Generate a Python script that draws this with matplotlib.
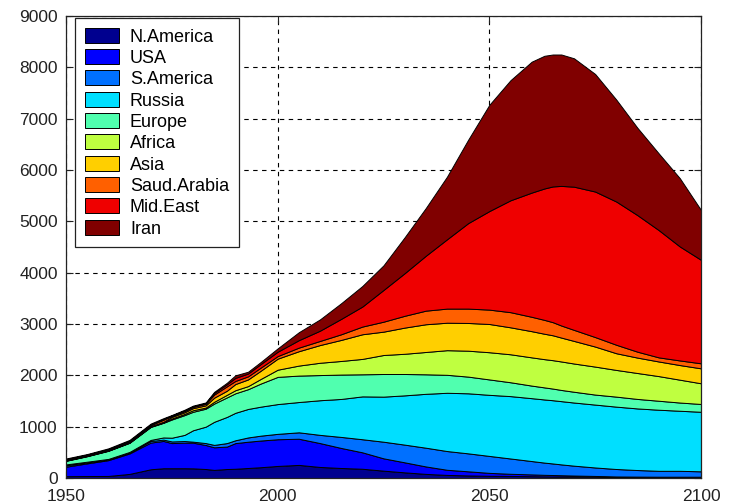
import numpy as np
import matplotlib
matplotlib.use("Agg")
import matplotlib.pyplot as plt

plt.rcParams["font.family"] = ["Liberation Sans", "DejaVu Sans"]

# years sampled from the chart
years = [1950, 1955, 1960, 1965, 1970, 1973, 1975, 1978, 1980, 1983,
         1985, 1988, 1990, 1993, 1996, 2000, 2005, 2010, 2015, 2020,
         2025, 2030, 2035, 2040, 2045, 2050, 2055, 2060, 2063, 2065,
         2067, 2070, 2075, 2080, 2085, 2090, 2095, 2100]

regions = ["N.America", "USA", "S.America", "Russia", "Europe",
           "Africa", "Asia", "Saud.Arabia", "Mid.East", "Iran"]

# per-region layer thickness (stacked in this order)
n_america = [35, 38, 40, 80, 170, 190, 190, 190, 188, 175,
             158, 175, 180, 195, 210, 235, 255, 215, 195, 180,
             143, 110, 80, 60, 50, 43, 40, 35, 32, 30,
             29, 27, 24, 20, 17, 15, 14, 13]
usa = [185, 247, 308, 398, 520, 532, 490, 498, 500, 468,
       440, 437, 500, 512, 520, 520, 510, 465, 390, 320,
       240, 195, 145, 100, 80, 57, 42, 35, 30, 28,
       25, 21, 16, 10, 10, 10, 11, 12]
s_america = [25, 18, 12, 17, 30, 26, 32, 32, 20, 37,
             47, 68, 55, 83, 95, 105, 125, 160, 215, 255,
             324, 345, 365, 365, 350, 330, 298, 260, 238, 225,
             211, 192, 165, 145, 128, 115, 115, 105]
russia = [20, 15, 12, 13, 22, 42, 73, 120, 222, 320,
          450, 510, 535, 555, 565, 580, 590, 675, 740, 835,
          878, 960, 1050, 1135, 1170, 1190, 1215, 1225, 1230, 1232,
          1232, 1230, 1225, 1215, 1200, 1190, 1170, 1160]
europe = [70, 107, 158, 178, 253, 285, 355, 385, 360, 350,
          355, 380, 380, 385, 450, 530, 515, 490, 475, 430,
          441, 416, 380, 350, 325, 300, 270, 245, 235, 227,
          218, 210, 195, 195, 185, 175, 160, 152]
africa = [5, 5, 5, 5, 7, 7, 20, 23, 30, 22,
          35, 50, 60, 60, 90, 140, 195, 240, 265, 300,
          370, 394, 435, 480, 505, 530, 545, 550, 550, 553,
          555, 550, 545, 520, 505, 480, 445, 403]
asia = [5, 6, 6, 6, 8, 13, 30, 32, 40, 43,
        80, 80, 120, 130, 160, 215, 280, 345, 410, 480,
        455, 510, 540, 535, 540, 550, 525, 510, 495, 485,
        465, 440, 390, 325, 300, 285, 285, 291]
saud_arabia = [10, 10, 11, 13, 20, 40, 20, 25, 25, 30,
               60, 85, 60, 60, 60, 50, 70, 80, 110, 150,
               194, 230, 265, 275, 280, 280, 295, 280, 270, 255,
               235, 215, 185, 165, 115, 80, 90, 98]
mid_east = [10, 9, 10, 14, 12, 13, 8, 10, 10, 13,
            30, 40, 60, 55, 70, 85, 145, 200, 300, 390,
            618, 830, 1070, 1350, 1665, 1920, 2180, 2420, 2560, 2645,
            2720, 2790, 2835, 2790, 2660, 2480, 2220, 2016]
iran = [15, 12, 16, 18, 18, 17, 10, 15, 15, 14,
        23, 30, 50, 35, 40, 65, 155, 220, 305, 400,
        480, 700, 930, 1220, 1625, 2070, 2340, 2550, 2585, 2570,
        2560, 2501, 2290, 1985, 1700, 1495, 1330, 970]

layers = [n_america, usa, s_america, russia, europe,
          africa, asia, saud_arabia, mid_east, iran]

# MATLAB jet(64) rows picked by the area index
colors = [(0, 0, 0.5625), (0, 0, 1), (0, 0.4375, 1), (0, 0.875, 1),
          (0.3125, 1, 0.6875), (0.75, 1, 0.25), (1, 0.8125, 0),
          (1, 0.375, 0), (0.9375, 0, 0), (0.5, 0, 0)]

fig = plt.figure(figsize=(7.30, 5.03), dpi=100)
ax = fig.add_axes([66 / 730, 25 / 503, 635 / 730, 462 / 503])

ax.stackplot(years, *layers, colors=colors, labels=regions,
             edgecolor="black", linewidth=0.7)

ax.set_xlim(1950, 2100)
ax.set_ylim(0, 9000)
ax.set_xticks([1950, 2000, 2050, 2100])
ax.set_yticks(range(0, 9001, 1000))
ax.set_axisbelow(True)
ax.grid(True, color="black", linestyle=(0, (4, 4)), linewidth=0.8)
ax.tick_params(direction="in", length=5, top=True, right=True,
               labelsize=12.5, colors="#222222")
ax.tick_params(axis="y", pad=6)
ax.tick_params(axis="x", pad=8)
for sp in ax.spines.values():
    sp.set_color("#222222")
    sp.set_linewidth(0.9)

leg = ax.legend(loc="upper left", bbox_to_anchor=(0.014, 0.996),
                borderaxespad=0, fontsize=13, fancybox=False,
                edgecolor="#222222", framealpha=1, handlelength=1.9,
                handleheight=0.9, handletextpad=0.6, labelspacing=0.2,
                borderpad=0.55)
leg.get_frame().set_linewidth(0.9)

fig.savefig("out.png", dpi=100)
